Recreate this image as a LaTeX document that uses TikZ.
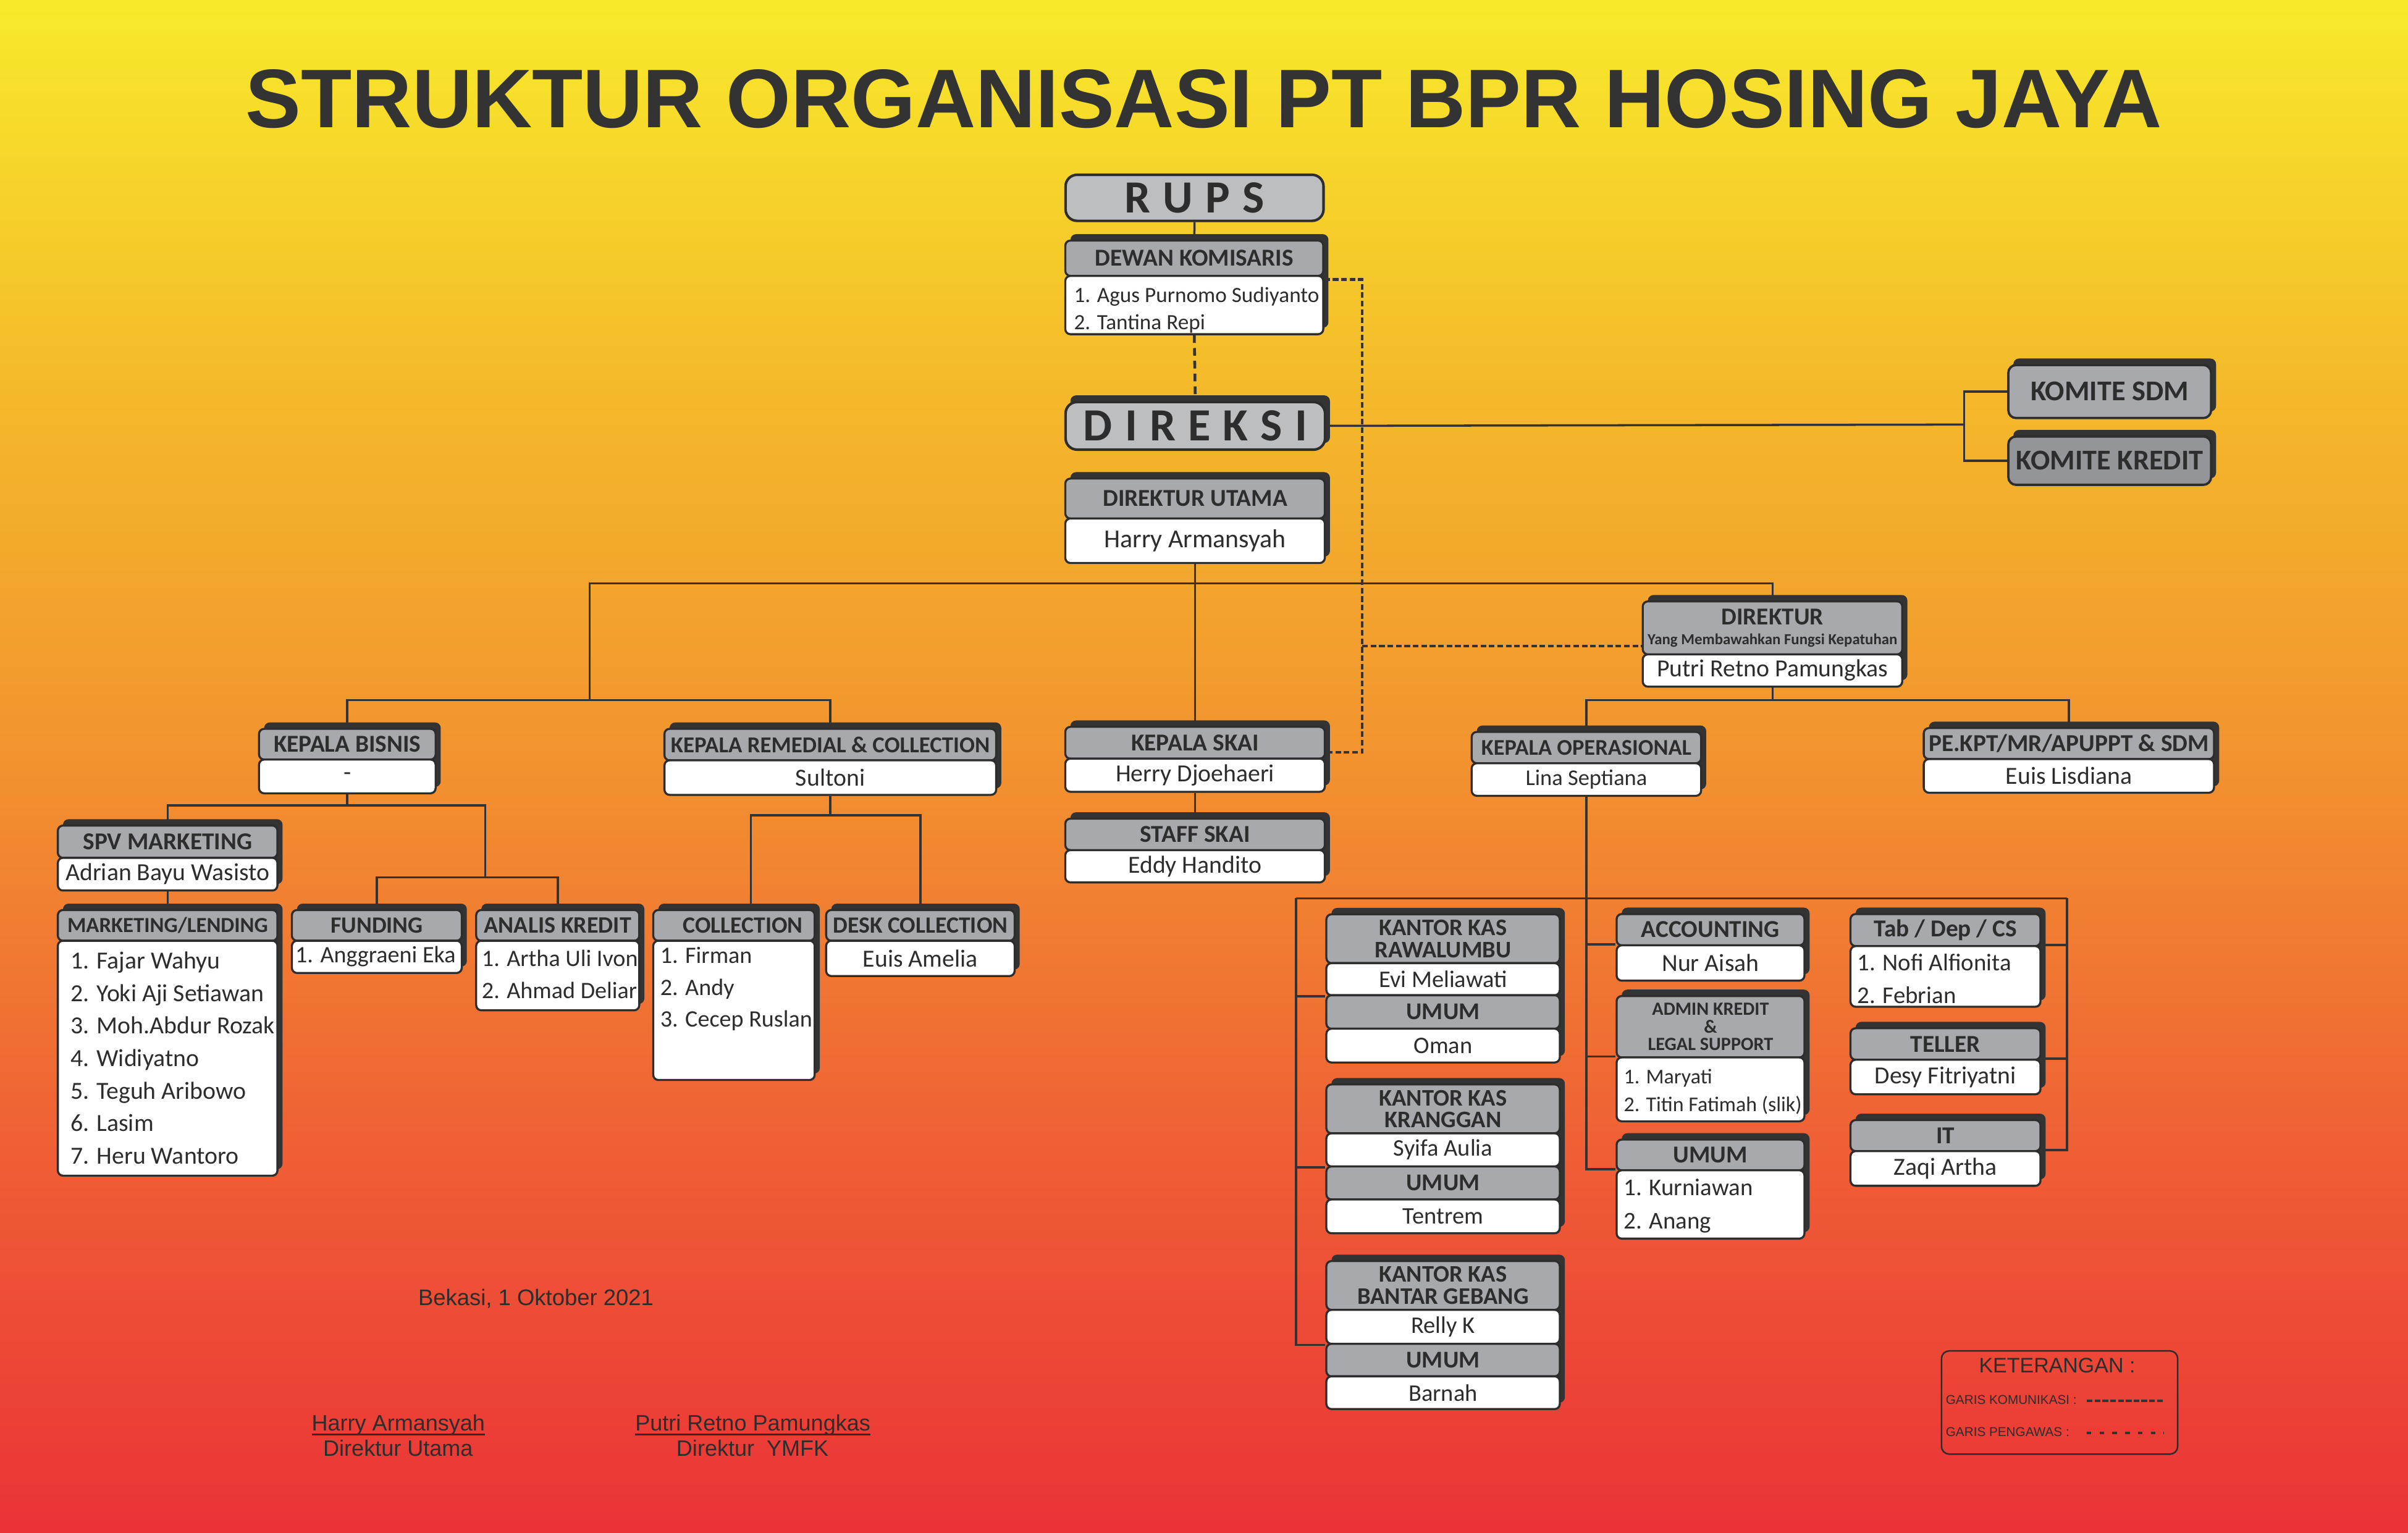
\documentclass[tikz,border=0pt]{standalone}
\usepackage{fontspec}
\setmainfont{Carlito}
\newfontfamily\arialf{Liberation Sans}
\definecolor{ink}{HTML}{2D2D2D}
\definecolor{shadowc}{HTML}{333333}
\definecolor{hdrgray}{HTML}{A7A9AC}
\definecolor{lgray}{HTML}{BDBEC0}
\definecolor{dgray}{HTML}{939598}
\definecolor{titlec}{HTML}{333333}
\definecolor{bgA}{HTML}{EB3237}
\definecolor{bgB}{HTML}{EF5F35}
\definecolor{bgC}{HTML}{F2922F}
\definecolor{bgD}{HTML}{F4BA2A}
\definecolor{bgE}{HTML}{F8EA2A}
\pgfdeclareverticalshading{bgshade}{100bp}{color(0bp)=(bgA); color(25bp)=(bgA); color(37.5bp)=(bgB); color(50bp)=(bgC); color(62.5bp)=(bgD); color(75bp)=(bgE); color(100bp)=(bgE)}
\pgfdeclarelayer{back}
\pgfdeclarelayer{wires}
\pgfsetlayers{back,wires,main}
\newcommand\shd[4]{\fill[shadowc,rounded corners=2.2pt] (#1+4,#2-3.5) rectangle (#3+4,#4-3.5);}
\newcommand\bx[7]{\node[#1,minimum width={(#5-#3)*0.6pt},minimum height={(#6-#4)*0.6pt},anchor=north west] (#2) at (#3,#4) {#7};}
\newcommand\lstx[6]{\node[lsttxt,font=\fontsize{#4}{#5}\selectfont,anchor=west] (#1) at (#2,#3) {#6};}
\newcommand\ulin[1]{\setbox0\hbox{#1}\rlap{\rule[-1.6pt]{\wd0}{0.55pt}}\box0}
\begin{document}
\begin{tikzpicture}[x=0.6pt,y=-0.6pt,line join=round,
 hdr/.style={draw=ink,line width=0.8pt,fill=hdrgray,rounded corners=2pt,inner sep=0pt,text=ink,align=center,font=\fontsize{9.5}{9.5}\selectfont\bfseries},
 bdy/.style={draw=ink,line width=0.8pt,fill=white,rounded corners=2pt,inner sep=0pt,text=ink,align=center,font=\fontsize{9.6}{10}\selectfont},
 lsttxt/.style={inner sep=0pt,text=ink,align=left},
 big/.style={draw=ink,line width=1pt,fill=lgray,rounded corners=4.5pt,inner sep=0pt,text=ink,font=\fontsize{18}{18}\selectfont\bfseries},
 kom/.style={draw=ink,line width=0.9pt,rounded corners=3pt,inner sep=0pt,text=ink,font=\fontsize{11.2}{12}\selectfont\bfseries},
 conn/.style={draw=shadowc,line width=0.85pt},
 pengawas/.style={draw=shadowc,line width=1.1pt,dash pattern=on 3pt off 2pt},
 komunik/.style={draw=shadowc,line width=1.1pt,dash pattern=on 2.2pt off 1.1pt},
 ar/.style={inner sep=0pt,text=ink}]
\begin{pgfonlayer}{back}
\shade[shading=bgshade] (0,0) rectangle (1568,998);
\end{pgfonlayer}
\useasboundingbox (0,0) rectangle (1568,998);

\node[ar,text=titlec,font=\arialf\bfseries\fontsize{32.5}{36}\selectfont,anchor=base] (title) at (784,83) {STRUKTUR ORGANISASI PT BPR HOSING JAYA};

% RUPS
\bx{big}{rups}{693}{113}{861}{143}{R\hspace{0.27em}U\hspace{0.27em}P\hspace{0.27em}S}
% Dewan komisaris
\shd{693}{156}{861}{217}
\bx{hdr}{dkh}{693}{156}{861}{179}{DEWAN KOMISARIS}
\bx{bdy}{dkb}{693}{179}{861}{217}{}
\lstx{dkl}{699}{202}{8.5}{10.8}{1. Agus Purnomo Sudiyanto\\2. Tantina Repi}
% Direksi
\shd{693}{261}{862}{292}
\bx{big}{dir}{693}{261}{862}{292}{D\hspace{0.27em}I\hspace{0.27em}R\hspace{0.27em}E\hspace{0.27em}K\hspace{0.27em}S\hspace{0.27em}I}
% Komite
\shd{1307}{237}{1439}{271.5}
\bx{kom,fill=hdrgray}{ksdm}{1307}{237}{1439}{271.5}{KOMITE SDM}
\shd{1307}{283.5}{1439}{315}
\bx{kom,fill=dgray}{kkre}{1307}{283.5}{1439}{315}{KOMITE KREDIT}
% Direktur utama
\shd{693}{311}{862}{366}
\bx{hdr}{duh}{693}{311}{862}{337}{DIREKTUR UTAMA}
\bx{bdy,font=\fontsize{10.1}{11}\selectfont}{dub}{693}{337}{862}{366}{Harry Armansyah}
% Direktur kepatuhan
\shd{1069}{391}{1238}{446.5}
\bx{hdr}{dkph}{1069}{391}{1238}{425.5}{DIREKTUR\\[-1.8pt]{\fontsize{6}{6}\selectfont Yang Membawahkan Fungsi Kepatuhan}}
\bx{bdy}{dkpb}{1069}{425.5}{1238}{446.5}{Putri Retno Pamungkas}
% Kepala row
\shd{168}{474}{283}{516}
\bx{hdr}{kbh}{168}{474}{283}{494}{KEPALA BISNIS}
\bx{bdy}{kbb}{168}{494}{283}{516}{-}
\shd{432}{474}{648}{517}
\bx{hdr,font=\fontsize{8.9}{9}\selectfont\bfseries}{krh}{432}{474}{648}{494.5}{KEPALA REMEDIAL \& COLLECTION}
\bx{bdy}{krb}{432}{494.5}{648}{517}{Sultoni}
\shd{693}{472.7}{862}{515}
\bx{hdr}{skh}{693}{472.7}{862}{493.4}{KEPALA SKAI}
\bx{bdy}{skb}{693}{493.4}{862}{515}{Herry Djoehaeri}
\shd{693}{532.5}{862}{574}
\bx{hdr}{ssh}{693}{532.5}{862}{553}{STAFF SKAI}
\bx{bdy}{ssb}{693}{553}{862}{574}{Eddy Handito}
\shd{957.6}{476}{1107}{517.6}
\bx{hdr,font=\fontsize{8.8}{9}\selectfont\bfseries}{koh}{957.6}{476}{1107}{496.4}{KEPALA OPERASIONAL}
\bx{bdy,font=\fontsize{8.8}{9}\selectfont}{kob}{957.6}{496.4}{1107}{517.6}{Lina Septiana}
\shd{1252}{473.5}{1441}{515.6}
\bx{hdr}{peh}{1252}{473.5}{1441}{493.7}{PE.KPT/MR/APUPPT \& SDM}
\bx{bdy}{peb}{1252}{493.7}{1441}{515.6}{Euis Lisdiana}
% Bisnis subtree
\shd{37}{537}{180}{579.3}
\bx{hdr}{svh}{37}{537}{180}{558}{SPV MARKETING}
\bx{bdy}{svb}{37}{558}{180}{579.3}{Adrian Bayu Wasisto}
\shd{37}{592}{180}{765}
\bx{hdr,font=\fontsize{8.4}{9}\selectfont\bfseries}{mlh}{37}{592}{180}{612}{MARKETING/LENDING}
\bx{bdy}{mlb}{37}{612}{180}{765}{}
\lstx{mll}{45.7}{689}{9.6}{12.7}{1. Fajar Wahyu\\2. Yoki Aji Setiawan\\3. Moh.Abdur Rozak\\4. Widiyatno\\5. Teguh Aribowo\\6. Lasim\\7. Heru Wantoro}
\shd{189.4}{592}{300}{633}
\bx{hdr,font=\fontsize{9.1}{9}\selectfont\bfseries}{fuh}{189.4}{592}{300}{612}{FUNDING}
\bx{bdy}{fub}{189.4}{612}{300}{633}{}
\lstx{ful}{192}{623}{9.2}{12}{1. Anggraeni Eka}
\shd{309.4}{592}{415.6}{657.3}
\bx{hdr,font=\fontsize{9.2}{9}\selectfont\bfseries}{akh}{309.4}{592}{415.6}{612}{ANALIS KREDIT}
\bx{bdy}{akb}{309.4}{612}{415.6}{657.3}{}
\lstx{akl}{313.4}{634.6}{9.2}{12.6}{1. Artha Uli Ivon\\2. Ahmad Deliar}
% Remedial subtree
\shd{424.7}{592}{529.8}{702.7}
\bx{hdr,font=\fontsize{9.1}{9}\selectfont\bfseries}{coh}{424.7}{592}{529.8}{612}{\hspace*{7pt}COLLECTION}
\bx{bdy}{cob}{424.7}{612}{529.8}{702.7}{}
\node[lsttxt,font=\fontsize{9.2}{12.4}\selectfont,anchor=north west] (col) at (429.6,616.5) {1. Firman\\2. Andy\\3. Cecep Ruslan};
\shd{537.3}{592}{660}{635}
\bx{hdr,font=\fontsize{9.1}{9}\selectfont\bfseries}{dch}{537.3}{592}{660}{612}{DESK COLLECTION}
\bx{bdy}{dcb}{537.3}{612}{660}{635}{Euis Amelia}
% Kantor kas
\shd{863}{594.8}{1015}{691.3}
\bx{hdr,font=\fontsize{9.3}{8.6}\selectfont\bfseries}{k1h}{863}{594.8}{1015}{626.6}{KANTOR KAS\\RAWALUMBU}
\bx{bdy,font=\fontsize{9.3}{10}\selectfont}{k1b}{863}{626.6}{1015}{647.5}{Evi Meliawati}
\bx{hdr,font=\fontsize{9.4}{10}\selectfont\bfseries}{k1u}{863}{647.5}{1015}{669.3}{UMUM}
\bx{bdy,font=\fontsize{9.3}{10}\selectfont}{k1n}{863}{669.3}{1015}{691.3}{Oman}
\shd{863}{705.6}{1015}{802.5}
\bx{hdr,font=\fontsize{9.3}{8.6}\selectfont\bfseries}{k2h}{863}{705.6}{1015}{737.4}{KANTOR KAS\\KRANGGAN}
\bx{bdy,font=\fontsize{9.3}{10}\selectfont}{k2b}{863}{737.4}{1015}{759}{Syifa Aulia}
\bx{hdr,font=\fontsize{9.4}{10}\selectfont\bfseries}{k2u}{863}{759}{1015}{780.5}{UMUM}
\bx{bdy,font=\fontsize{9.3}{10}\selectfont}{k2n}{863}{780.5}{1015}{802.5}{Tentrem}
\shd{863}{820.6}{1015}{917}
\bx{hdr,font=\fontsize{9.3}{8.6}\selectfont\bfseries}{k3h}{863}{820.6}{1015}{852.4}{KANTOR KAS\\BANTAR GEBANG}
\bx{bdy,font=\fontsize{9.3}{10}\selectfont}{k3b}{863}{852.4}{1015}{874.5}{Relly K}
\bx{hdr,font=\fontsize{9.4}{10}\selectfont\bfseries}{k3u}{863}{874.5}{1015}{895.7}{UMUM}
\bx{bdy,font=\fontsize{9.3}{10}\selectfont}{k3n}{863}{895.7}{1015}{917}{Barnah}
% Operasional middle column
\shd{1052}{594.6}{1174.3}{638}
\bx{hdr}{ach}{1052}{594.6}{1174.3}{615}{ACCOUNTING}
\bx{bdy}{acb}{1052}{615}{1174.3}{638}{Nur Aisah}
\shd{1052}{648}{1174.3}{729.6}
\bx{hdr,font=\fontsize{7.3}{6.8}\selectfont\bfseries}{adh}{1052}{648}{1174.3}{688}{ADMIN KREDIT\\\&\\LEGAL SUPPORT}
\bx{bdy}{adb}{1052}{688}{1174.3}{729.6}{}
\lstx{adl}{1057}{711}{8.2}{10.8}{1. Maryati\\2. Titin Fatimah (slik)}
\shd{1052}{741.5}{1174.3}{806}
\bx{hdr}{umh}{1052}{741.5}{1174.3}{761.5}{UMUM}
\bx{bdy}{umb}{1052}{761.5}{1174.3}{806}{}
\lstx{uml}{1057}{785.5}{9.4}{13}{1. Kurniawan\\2. Anang}
% Operasional right column
\shd{1204.3}{594.6}{1328}{655}
\bx{hdr}{tdh}{1204.3}{594.6}{1328}{615.5}{Tab / Dep / CS}
\bx{bdy}{tdb}{1204.3}{615.5}{1328}{655}{}
\lstx{tdl}{1209}{637.5}{9.4}{12.9}{1. Nofi Alfionita\\2. Febrian}
\shd{1204.3}{669}{1328}{712}
\bx{hdr}{teh}{1204.3}{669}{1328}{689.5}{TELLER}
\bx{bdy}{teb}{1204.3}{689.5}{1328}{712}{Desy Fitriyatni}
\shd{1204.3}{728.8}{1328}{771.6}
\bx{hdr}{ith}{1204.3}{728.8}{1328}{749}{IT}
\bx{bdy}{itb}{1204.3}{749}{1328}{771.6}{Zaqi Artha}

% signatures
\node[ar,font=\arialf\fontsize{8.8}{10}\selectfont,anchor=base west] (tgl) at (272,850) {Bekasi, 1 Oktober 2021};
\node[ar,font=\arialf\fontsize{8.7}{10}\selectfont,anchor=base] (sig1) at (259.4,932) {\ulin{Harry Armansyah}};
\node[ar,font=\arialf\fontsize{8.7}{10}\selectfont,anchor=base] (jab1) at (259.2,948.5) {Direktur Utama};
\node[ar,font=\arialf\fontsize{8.7}{10}\selectfont,anchor=base] (sig2) at (490.2,932) {\ulin{Putri Retno Pamungkas}};
\node[ar,font=\arialf\fontsize{8.7}{10}\selectfont,anchor=base] (jab2) at (490,948.5) {Direktur\ \ YMFK};

% legend
\node[draw=ink,line width=0.6pt,rounded corners=3pt,inner sep=0pt,minimum width={(1417.5-1263.7)*0.6pt},minimum height={(946.5-879.3)*0.6pt},anchor=north west] (leg) at (1263.7,879.3) {};
\node[ar,font=\arialf\fontsize{8.2}{9}\selectfont,anchor=base] (legt) at (1339.5,893.8) {KETERANGAN :};
\node[ar,font=\arialf\fontsize{5}{6}\selectfont,anchor=base west] (legk) at (1266.7,914.5) {GARIS KOMUNIKASI :};
\node[ar,font=\arialf\fontsize{5}{6}\selectfont,anchor=base west] (legp) at (1266.7,935.3) {GARIS PENGAWAS :};
\coordinate (lk1) at (1358.8,912.4);
\coordinate (lk2) at (1409,912.4);
\coordinate (lp1) at (1358.8,933.2);
\coordinate (lp2) at (1409,933.2);
\draw[draw=shadowc,line width=1pt,dash pattern=on 2.25pt off 0.8pt] (lk1) -- (lk2);
\draw[draw=shadowc,line width=1pt,dash pattern=on 1.8pt off 3.2pt] (lp1) -- (lp2);

\begin{pgfonlayer}{wires}
\draw[conn] (rups.south) -- (dkh.north);
\draw[pengawas] (dkb.south) -- (dir.north);
\coordinate (c1) at (887,182);
\coordinate (c2) at (887,490);
\coordinate (c3) at (887,420.8);
\draw[komunik] (dkb.east |- c1) -- (c1) -- (c2) -- (skh.east |- c2);
\draw[komunik] (c3) -- (dkph.west |- c3);
\coordinate (brk) at (1279,276.5);
\draw[conn] (dir.east) -- (brk);
\draw[conn] (ksdm.west) -| (brk) |- (kkre.west);
\draw[conn] (dub.south) -- (skh.north);
\coordinate (t1) at (384,380);
\coordinate (t2) at (384,456);
\draw[conn] (dkph.north) -- (dkph.north |- t1) -- (t1) -- (t2);
\draw[conn] (kbh.north) -- (kbh.north |- t2) -- (krh.north |- t2) -- (krh.north);
\coordinate (t3) at (1032.3,456);
\draw[conn] (dkpb.south) -- (dkpb.south |- t3);
\draw[conn] (koh.north) -- (koh.north |- t3) -- (peh.north |- t3) -- (peh.north);
\draw[conn] (skb.south) -- (ssh.north);
\coordinate (b2) at (316,524.5);
\coordinate (b3) at (316,571.3);
\draw[conn] (kbb.south) -- (kbb.south |- b2);
\draw[conn] (svh.north) -- (svh.north |- b2) -- (b2) -- (b3);
\draw[conn] (fuh.north) -- (fuh.north |- b3) -- (akh.north |- b3) -- (akh.north);
\draw[conn] (svb.south) -- (mlh.north);
\coordinate (b4) at (489,531);
\draw[conn] (krb.south) -- (krb.south |- b4);
\draw[conn] (b4 |- coh.north) -- (b4) -- (dch.north |- b4) -- (dch.north);
\coordinate (barL) at (844,585);
\coordinate (barR) at (1346,585);
\draw[conn] (barL) -- (barR);
\draw[conn] (kob.south) |- (umb.north west);
\draw[conn] (acb.north west) -- (acb.north west -| kob.south);
\draw[conn] (adb.north west) -- (adb.north west -| kob.south);
\draw[conn] (barL) |- (k3b.south west);
\draw[conn] (k1b.south west) -- (k1b.south west -| barL);
\draw[conn] (k2b.south west) -- (k2b.south west -| barL);
\draw[conn] (barR) |- (itb.north east);
\draw[conn] (tdb.north east) -- (tdb.north east -| barR);
\draw[conn] (teb.north east) -- (teb.north east -| barR);
\end{pgfonlayer}
\end{tikzpicture}
\end{document}
